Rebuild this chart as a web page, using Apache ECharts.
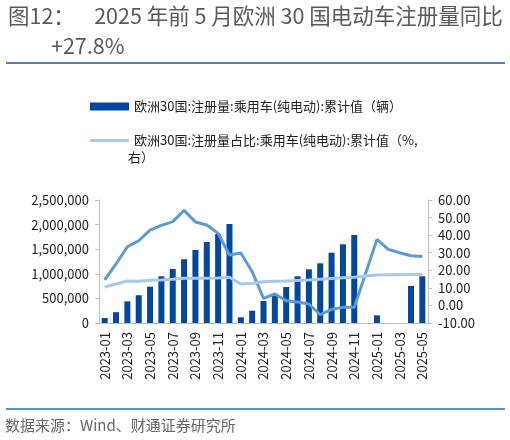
<!DOCTYPE html>
<html>
<head>
<meta charset="utf-8">
<script src="https://cdn.jsdelivr.net/npm/echarts@6/dist/echarts.min.js"></script>
<style>
  html, body { margin: 0; padding: 0; background: #fff; }
  #chart { width: 510px; height: 440px; }
</style>
</head>
<body>
<div id="chart"></div>
<script>
// 月份
const months = [
  "2023-01", "2023-02", "2023-03", "2023-04", "2023-05", "2023-06", "2023-07", "2023-08", "2023-09", "2023-10", "2023-11", "2023-12",
  "2024-01", "2024-02", "2024-03", "2024-04", "2024-05", "2024-06", "2024-07", "2024-08", "2024-09", "2024-10", "2024-11", "2024-12",
  "2025-01", "2025-02", "2025-03", "2025-04", "2025-05"
];
// 注册量累计值（辆）
const regCum = [
  100000, 220000, 440000, 565000, 738000, 949000, 1098000, 1295000, 1484000, 1646000, 1809000, 2012000,
  116000, 250000, 447000, 575000, 732000, 949000, 1091000, 1213000, 1429000, 1600000, 1789000, null,
  156000, null, null, 752000, 949000
];
// 累计同比（%，右轴）
const regYoy = [
  14.5, 23.6, 33.4, 36.8, 42.9, 45.6, 47.7, 54.1, 47.5, 45.8, 41.0, 28.7,
  29.8, 19.2, 4.0, 6.5, 2.7, 2.0, 0.8, -5.3, -2.2, -1.1, -1.1, null,
  37.6, 31.9, 30.0, 28.3, 27.8
];
// 注册量占比（%，右轴）
const regShare = [
  10.5, 12.2, 13.9, 13.7, 14.3, 14.5, 14.9, 15.4, 15.4, 15.4, 15.6, 16.0,
  12.2, 12.6, 13.5, 13.7, 13.9, 14.2, 14.5, 14.9, 15.3, 15.7, 16.0, null,
  17.3, 17.4, 17.5, 17.6, 17.7
];

const nameBar = "欧洲30国:注册量:乘用车(纯电动):累计值（辆）";
const nameShare = "欧洲30国:注册量占比:乘用车(纯电动):累计值（%,";
const nameYoy = "欧洲30国:注册量:乘用车(纯电动):累计同比";

const font = "Noto Sans CJK SC";

const myChart = echarts.init(document.getElementById("chart"));

const option = {
  animation: false,
  textStyle: { fontFamily: font },
  title: [
    {
      text: "图12：    2025 年前 5 月欧洲 30 国电动车注册量同比",
      left: 3, top: 0,
      textStyle: { fontSize: 21.5, fontWeight: "normal", color: "#595959", fontFamily: font }
    },
    {
      text: "+27.8%",
      left: 46, top: 30,
      textStyle: { fontSize: 21.5, fontWeight: "normal", color: "#595959", fontFamily: font }
    }
  ],
  graphic: {
    elements: [
      // 标题下分隔线
      {
        type: "rect", z: 100, silent: true,
        x: 6, y: 62,
        shape: { width: 499, height: 2 },
        style: { fill: "#4f81bd" }
      },
      // 底部分隔线
      {
        type: "rect", z: 100, silent: true,
        x: 6, y: 408,
        shape: { width: 499, height: 2 },
        style: { fill: "#5b8fd0" }
      },
      {
        type: "text", left: 5, top: 418,
        style: { text: "数据来源：Wind、财通证券研究所", fontSize: 15, fill: "#666", fontFamily: font }
      },
      {
        type: "text", left: 128, top: 151,
        style: { text: "右）", fontSize: 13, fill: "#222", fontFamily: font }
      }
    ]
  },
  legend: {
    orient: "vertical",
    left: 85, top: 95,
    itemGap: 21,
    itemWidth: 39,
    itemHeight: 8,
    textStyle: { fontSize: 13, color: "#222", fontFamily: font },
    data: [
      { name: nameBar, icon: "rect" },
      { name: nameShare, icon: "path://M0,0H40V3H0Z" }
    ]
  },
  grid: { left: 99, right: 82, top: 200, bottom: 117 },
  xAxis: {
    type: "category",
    data: months,
    axisLine: { lineStyle: { color: "#bfbfbf" } },
    axisTick: { show: false },
    axisLabel: { interval: 1, rotate: 90, fontSize: 13, color: "#222", margin: 9 }
  },
  yAxis: [
    {
      type: "value",
      min: 0, max: 2500000, interval: 500000,
      splitLine: { show: false },
      axisLine: { show: true, lineStyle: { color: "#bfbfbf" } },
      axisTick: { show: true, length: 4, lineStyle: { color: "#bfbfbf" } },
      axisLabel: {
        fontSize: 13, color: "#222", margin: 10,
        formatter: v => v.toLocaleString("en-US")
      }
    },
    {
      type: "value",
      min: -10, max: 60, interval: 10,
      splitLine: { show: false },
      axisLine: { show: true, lineStyle: { color: "#bfbfbf" } },
      axisTick: { show: true, length: 4, lineStyle: { color: "#bfbfbf" } },
      axisLabel: {
        fontSize: 13, color: "#222", margin: 10,
        formatter: v => v.toFixed(2)
      }
    }
  ],
  series: [
    {
      name: nameBar,
      type: "bar",
      data: regCum,
      barWidth: 6,
      itemStyle: { color: "#00479d" }
    },
    {
      name: nameYoy,
      type: "line",
      yAxisIndex: 1,
      data: regYoy,
      symbol: "none",
      connectNulls: true,
      lineStyle: { color: "#5b9bd5", width: 3 },
      itemStyle: { color: "#5b9bd5" }
    },
    {
      name: nameShare,
      type: "line",
      yAxisIndex: 1,
      data: regShare,
      symbol: "none",
      connectNulls: true,
      lineStyle: { color: "#a9c8ef", width: 3 },
      itemStyle: { color: "#a9c8ef" }
    }
  ]
};

myChart.setOption(option);
</script>
</body>
</html>
